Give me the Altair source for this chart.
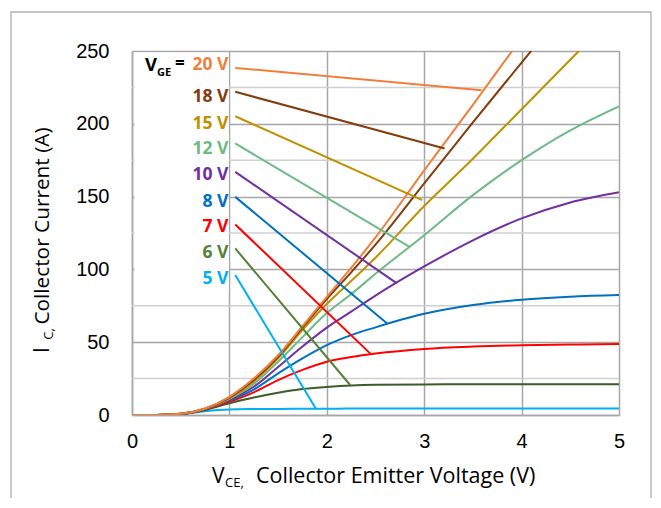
import altair as alt
import pandas as pd

# ---------------- data ----------------
vce = [0, 0.25, 0.5, 0.75, 1.0, 1.25, 1.5, 1.75, 2.0, 2.25, 2.5, 3.0, 3.5, 4.0, 4.5, 5.0]

ic_5v = [0, 0, 0.6, 2.6, 3.8, 4.1, 4.2, 4.3, 4.3, 4.4, 4.4, 4.4, 4.5, 4.5, 4.5, 4.5]
ic_6v = [0, 0, 0.7, 3.5, 8.0, 12.0, 15.3, 17.8, 19.2, 20.2, 20.7, 21.0, 21.1, 21.1, 21.1, 21.2]
ic_7v = [0, 0, 0.7, 3.8, 9.0, 15.5, 24.0, 31.0, 36.6, 39.8, 42.2, 45.4, 47.0, 47.9, 48.4, 48.7]
ic_8v = [0, 0, 0.7, 4.0, 10.0, 17.5, 28.6, 38.9, 48.0, 54.9, 60.2, 69.5, 75.5, 79.2, 81.3, 82.4]
ic_10v = [0, 0, 0.8, 4.1, 10.5, 19.4, 33.0, 47.0, 60.0, 71.0, 82.0, 102.0, 120.0, 135.0, 146.0, 153.0]
ic_12v = [0, 0, 0.8, 4.2, 11.0, 21.3, 36.6, 53.5, 70.0, 83.0, 97.0, 123.5, 151.0, 175.0, 195.5, 212.0]
ic_15v = [0, 0, 0.8, 4.3, 11.5, 22.9, 38.9, 58.3, 76.2, 92.0, 108.0, 143.5, 176.0, 210.0, 244.0, 278.0]
ic_18v = [0, 0, 0.8, 4.4, 12.0, 24.0, 40.0, 60.0, 79.6, 98.0, 117.0, 159.0, 201.0, 242.0, 283.0, 324.0]
ic_20v = [0, 0, 0.8, 4.5, 12.5, 25.0, 41.0, 61.0, 81.2, 101.0, 122.0, 168.0, 213.0, 259.0, 304.0, 349.0]

vge_labels = ["20 V", "18 V", "15 V", "12 V", "10 V", "8 V", "7 V", "6 V", "5 V"]
series_ic = [ic_20v, ic_18v, ic_15v, ic_12v, ic_10v, ic_8v, ic_7v, ic_6v, ic_5v]

label_ic = [240.2, 218.5, 200.2, 182.6, 164.7, 146.4, 129.2, 111.4, 93.1]
callout_start_vce = [1.06, 1.06, 1.06, 1.06, 1.06, 1.06, 1.06, 1.06, 1.06]
callout_start_ic = [238.4, 222.0, 205.2, 186.5, 167.0, 149.8, 130.9, 114.4, 96.1]
callout_end_vce = [3.59, 3.21, 2.98, 2.85, 2.72, 2.62, 2.45, 2.24, 1.89]
callout_end_ic = [223.0, 183.0, 147.6, 115.5, 90.4, 62.9, 42.0, 20.6, 4.1]

label_colors = ["#F07F3C", "#843C0C", "#BF9000", "#6DBB84", "#7030A0",
                "#0070C0", "#FF0000", "#548235", "#00B0F0"]
curve_colors = ["#F07F3C", "#843C0C", "#BF9000", "#6DBB84", "#7030A0",
                "#0070C0", "#FF0000", "#3D5C2A", "#00B0F0"]

x_ticks = [0, 1, 2, 3, 4, 5]
y_ticks = [0, 50, 100, 150, 200, 250]
y_minor = [25, 75, 125, 175, 225]

# ---------------- chart ----------------
W, H = 487, 364
GRID = "#a6a6a6"
xscale = alt.Scale(domain=[0, 5], nice=False, zero=False)
yscale = alt.Scale(domain=[0, 250], nice=False)

x_axis = alt.Axis(values=x_ticks, grid=True, gridColor=GRID, gridWidth=1.5,
                  domainColor=GRID, domainWidth=1.5, ticks=False, title=None,
                  labelFont="Liberation Sans", labelFontSize=20, labelColor="#000000",
                  labelPadding=16, labelFlush=False, labelOverlap=False, format="d")
y_axis = alt.Axis(values=y_ticks, grid=True, gridColor=GRID, gridWidth=1.5,
                  domainColor=GRID, domainWidth=1.5, ticks=False, title=None,
                  labelFont="Liberation Sans", labelFontSize=20, labelColor="#000000",
                  labelPadding=23, labelOverlap=False, format="d")

# minor grid
minor = alt.Chart(pd.DataFrame({"ic": y_minor})).mark_rule(
    color="#d0d0d0", strokeWidth=1.5
).encode(y=alt.Y("ic:Q", scale=yscale, axis=y_axis))

base_axes = alt.Chart(pd.DataFrame({"vce": [0.0], "ic": [0.0]})).mark_point(opacity=0).encode(
    x=alt.X("vce:Q", scale=xscale, axis=x_axis),
    y=alt.Y("ic:Q", scale=yscale, axis=y_axis),
)

# white label box that hides the gridlines behind the labels
box = alt.Chart(pd.DataFrame({"a": [0]})).mark_rect(fill="white", stroke=None).encode(
    x=alt.value(2.5), x2=alt.value(96.8), y=alt.value(1.5), y2=alt.value(241.5)
)

# curves, drawn from low to high gate voltage
curve_layers = []
for name, ic, col in list(zip(vge_labels, series_ic, curve_colors))[::-1]:
    df = pd.DataFrame({"vce": vce, "ic": ic})
    curve_layers.append(
        alt.Chart(df).mark_line(color=col, strokeWidth=2, interpolate="monotone", clip=True).encode(
            x=alt.X("vce:Q", scale=xscale),
            y=alt.Y("ic:Q", scale=yscale),
        )
    )

callout_df = pd.DataFrame({
    "vge": vge_labels,
    "x1": callout_start_vce, "y1": callout_start_ic,
    "x2": callout_end_vce, "y2": callout_end_ic,
})
color_enc = alt.Color("vge:N", scale=alt.Scale(domain=vge_labels, range=label_colors), legend=None)
callouts = alt.Chart(callout_df).mark_rule(strokeWidth=2).encode(
    x=alt.X("x1:Q", scale=xscale), y=alt.Y("y1:Q", scale=yscale),
    x2="x2:Q", y2="y2:Q", color=color_enc,
)

label_df = pd.DataFrame({"vge": vge_labels, "x": [1.0] * len(vge_labels), "y": label_ic})
labels = alt.Chart(label_df).mark_text(
    align="right", baseline="middle", font="Open Sans", fontWeight="bold", fontSize=17.5, dx=-1
).encode(
    x=alt.X("x:Q", scale=xscale), y=alt.Y("y:Q", scale=yscale),
    text="vge:N", color=color_enc,
)

def txt(s, x, y, size, weight="normal", angle=0, align="left", font="Open Sans"):
    return alt.Chart(pd.DataFrame({"t": [s]})).mark_text(
        align=align, baseline="middle", fontSize=size, fontWeight=weight,
        angle=angle, font=font, color="#000000"
    ).encode(x=alt.value(x), y=alt.value(y), text="t:N")

vge_title = [
    txt("V", 13, 14, 18.5, "bold"),
    txt("GE", 25, 22, 11, "bold"),
    txt("=", 43, 13, 17, "bold"),
]

y_title = [
    txt("I", -89, 299, 21, angle=270, align="center"),
    txt("C,", -83, 283, 13, angle=270, align="center"),
    txt("Collector Current (A)", -89, 175, 20.8, angle=270, align="center"),
]
x_title = [
    txt("V", 80, 426, 21),
    txt("CE,", 93, 432, 13),
    txt("Collector Emitter Voltage (V)", 124, 426, 21.5),
]

frame = alt.Chart(pd.DataFrame({"a": [0]})).mark_rect(
    fill=None, stroke="#b0b0b0", strokeWidth=1.3
).encode(x=alt.value(-121), x2=alt.value(519), y=alt.value(-39), y2=alt.value(470))

chart = alt.layer(
    minor, base_axes, box, *curve_layers, callouts, labels,
    *vge_title, *y_title, *x_title, frame
).properties(
    width=W, height=H,
    autosize=alt.AutoSizeParams(type="none"),
    padding={"left": 124, "top": 43, "right": 34, "bottom": 83},
).configure_view(stroke=None).configure(background="white")

chart.save("out.html", embed_options={"renderer": "svg", "actions": False})
